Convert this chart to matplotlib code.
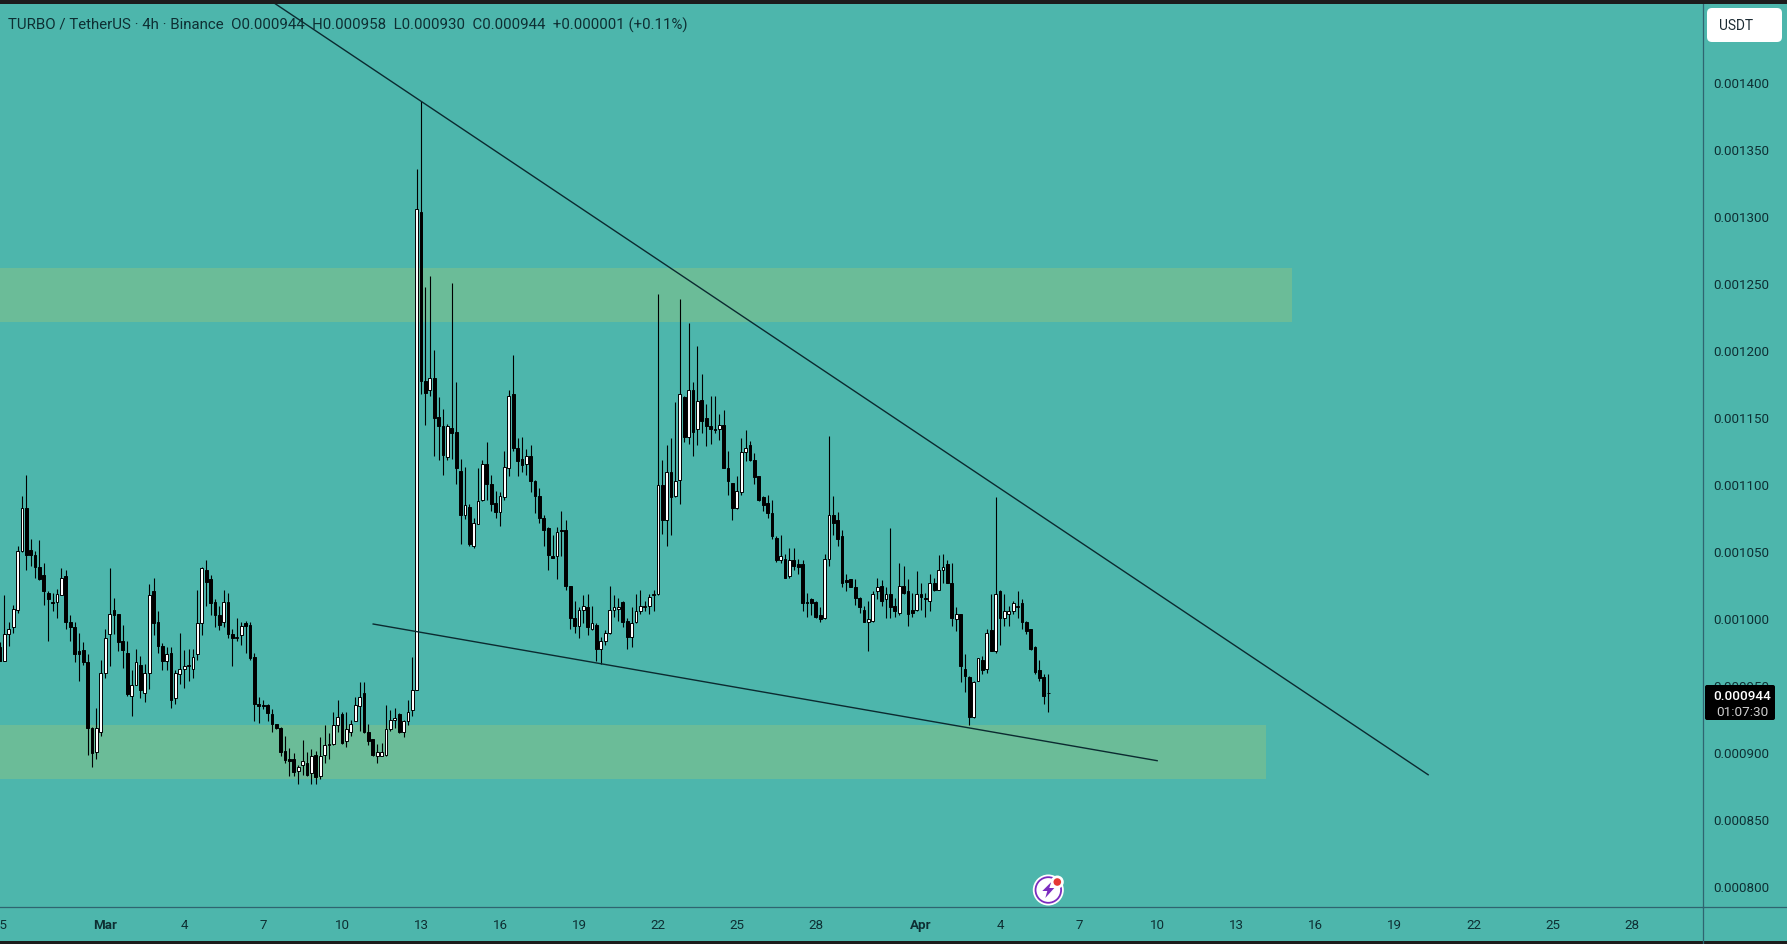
import numpy as np
import pandas as pd
import matplotlib
matplotlib.use("Agg")
import matplotlib.pyplot as plt
import matplotlib.dates as mdates
from matplotlib.lines import Line2D
from matplotlib.patches import Circle, FancyBboxPatch, Polygon, Rectangle
from matplotlib.transforms import IdentityTransform

# Prices are in millionths of USDT.
opens = [978,968,988,993,1006,1050,1082,1051,1047,1038,
 1032,1019,1012,1012,1017,1031,997,993,975,976,
 967,918,900,915,959,988,1006,1003,983,974,
 942,950,965,944,959,1020,997,979,968,974,
 940,958,962,964,962,973,996,1036,1029,1012,
 1002,997,1012,988,985,987,996,995,971,936,
 935,935,928,921,918,901,895,895,886,890,
 892,884,898,882,898,905,906,920,928,908,
 915,923,934,944,915,910,897,897,898,917,
 924,928,915,923,931,946,1303,1177,1170,1179,
 1150,1143,1120,1142,1139,1110,1077,1083,1054,1070,
 1088,1115,1100,1086,1079,1090,1112,1167,1127,1119,
 1115,1121,1102,1091,1075,1067,1046,1046,1066,1066,
 1024,1000,994,1006,1008,992,995,977,983,989,
 1006,1007,1012,998,986,997,1005,1008,1009,1017,
 1018,1099,1073,1109,1091,1103,1165,1135,1170,1141,
 1163,1149,1143,1141,1141,1144,1112,1101,1082,1094,
 1124,1129,1118,1106,1090,1086,1078,1060,1043,1044,
 1031,1043,1040,1040,1012,1014,1012,1002,1000,1044,
 1077,1073,1061,1028,1029,1023,1015,1006,997,998,
 1020,1024,1014,1018,1009,1004,1024,1020,1006,1006,
 1018,1015,1013,1026,1021,1036,1040,1026,999,1003,
 962,956,926,953,969,962,991,975,1020,1000,
 1003,1005,1008,1011,997,992,978,961,956,944]
highs = [982,1017,997,1010,1054,1091,1107,1059,1050,1058,
 1041,1020,1019,1022,1037,1036,1002,997,989,982,
 973,919,933,969,992,1037,1015,1003,995,983,
 961,977,972,966,1025,1030,1005,981,978,978,
 961,989,976,977,977,1021,1038,1043,1032,1014,
 1009,1021,1019,992,1000,997,998,997,974,941,
 939,936,932,921,919,912,903,899,890,909,
 900,902,901,911,920,914,930,939,930,930,
 924,941,952,952,921,910,906,907,935,931,
 933,929,924,939,971,1335,1386,1247,1255,1200,
 1165,1156,1145,1250,1176,1119,1113,1085,1075,1112,
 1118,1131,1107,1095,1094,1125,1170,1196,1134,1135,
 1126,1129,1103,1097,1077,1068,1062,1068,1080,1073,
 1024,1013,1008,1017,1018,1009,996,986,991,1024,
 1017,1015,1013,1000,1008,1018,1021,1013,1018,1021,
 1242,1118,1129,1134,1161,1238,1166,1220,1176,1203,
 1182,1160,1166,1166,1152,1155,1125,1101,1106,1134,
 1140,1132,1123,1106,1091,1092,1088,1061,1062,1048,
 1052,1052,1044,1043,1019,1015,1013,1008,1048,1136,
 1091,1079,1066,1033,1029,1029,1016,1009,1013,1020,
 1030,1028,1023,1067,1015,1041,1039,1029,1019,1035,
 1026,1019,1033,1030,1047,1048,1043,1041,1008,1003,
 973,957,953,970,972,992,1018,1090,1021,1018,
 1009,1013,1020,1014,998,992,979,969,958,958]
lows = [968,968,979,989,1004,1049,1036,1039,1030,1028,
 1010,983,1005,1000,1017,992,983,967,953,965,
 898,889,895,912,955,964,988,975,963,942,
 927,950,940,937,947,987,974,961,961,933,
 936,951,948,953,955,969,987,1009,1002,993,
 991,993,985,964,983,980,974,969,923,922,
 932,923,915,917,897,892,882,882,876,883,
 882,876,876,880,892,895,905,915,906,904,
 912,923,916,914,905,897,892,897,897,916,
 918,914,911,920,927,946,1167,1144,1166,1121,
 1118,1107,1118,1119,1100,1055,1074,1054,1052,1070,
 1087,1088,1080,1075,1069,1088,1106,1125,1106,1109,
 1107,1094,1078,1071,1054,1036,1045,1029,1046,1021,
 992,989,985,996,987,991,968,966,980,988,
 1001,998,993,977,978,996,1003,1005,1003,1005,
 1017,1063,1054,1062,1090,1085,1131,1130,1121,1129,
 1138,1128,1130,1138,1133,1112,1092,1073,1081,1092,
 1117,1117,1100,1087,1080,1075,1059,1042,1041,1030,
 1030,1036,1033,1005,1001,1002,1000,997,999,1039,
 1062,1054,1023,1020,1023,1010,1004,997,975,997,
 1014,1009,1000,1000,1001,1002,1018,994,1001,1005,
 1006,1001,1005,1020,1021,1026,1026,994,990,952,
 945,920,925,953,958,959,975,974,980,994,
 994,1003,1000,992,988,976,958,953,936,930]
closes = [968,988,992,1007,1050,1082,1047,1047,1038,1029,
 1020,1014,1011,1018,1030,997,993,973,973,967,
 918,899,918,959,985,1003,1002,982,976,943,
 950,967,946,959,1017,996,979,968,973,939,
 959,962,964,965,971,996,1037,1027,1011,1002,
 995,1012,988,985,986,994,994,970,936,934,
 934,929,921,918,900,894,893,885,889,893,
 883,897,881,897,905,906,920,926,907,917,
 921,935,941,915,908,898,900,900,917,924,
 925,915,923,930,946,1305,1177,1168,1179,1149,
 1143,1122,1143,1138,1112,1077,1084,1055,1071,1087,
 1115,1100,1085,1079,1091,1113,1166,1127,1117,1114,
 1121,1102,1091,1075,1066,1047,1045,1064,1065,1024,
 1000,994,1006,1009,993,996,977,983,989,1006,
 1008,1008,997,986,996,1005,1009,1009,1016,1018,
 1099,1073,1109,1090,1102,1167,1135,1170,1139,1162,
 1147,1143,1141,1140,1144,1112,1102,1082,1095,1124,
 1127,1118,1105,1088,1084,1078,1061,1043,1046,1030,
 1043,1039,1038,1011,1011,1011,1001,999,1044,1077,
 1071,1059,1026,1027,1023,1015,1008,997,999,1018,
 1023,1013,1018,1008,1005,1024,1019,1003,1004,1018,
 1016,1014,1026,1021,1036,1038,1026,1000,1003,964,
 957,926,952,970,961,989,975,1018,1000,1005,
 1005,1011,1009,997,990,977,960,955,942,944]

last_candle = "2025-04-05 20:00"

price_ticks = [800, 850, 900, 950, 1000, 1050, 1100, 1150, 1200, 1250, 1300, 1350, 1400]
price_labels = ["0.000800", "0.000850", "0.000900", "0.000950", "0.001000", "0.001050", "0.001100",
                "0.001150", "0.001200", "0.001250", "0.001300", "0.001350", "0.001400"]
date_ticks = ["2025-02-25", "2025-03-01", "2025-03-04", "2025-03-07", "2025-03-10", "2025-03-13",
              "2025-03-16", "2025-03-19", "2025-03-22", "2025-03-25", "2025-03-28", "2025-04-01",
              "2025-04-04", "2025-04-07", "2025-04-10", "2025-04-13", "2025-04-16", "2025-04-19",
              "2025-04-22", "2025-04-25", "2025-04-28"]
date_labels = ["25", "Mar", "4", "7", "10", "13", "16", "19", "22", "25", "28", "Apr",
               "4", "7", "10", "13", "16", "19", "22", "25", "28"]

upper_zone = (1221, 1261.5, "2025-04-15 02:00")
lower_zone = (879.5, 920.5, "2025-04-14 03:00")
upper_trend_t = ["2025-03-07 10:00", "2025-04-20 06:30"]
upper_trend_p = [1459, 883]
lower_trend_t = ["2025-03-11 04:20", "2025-04-09 23:20"]
lower_trend_p = [995.5, 893.5]

header = ("TURBO / TetherUS \u00b7 4h \u00b7 Binance  O0.000944  H0.000958  "
          "L0.000930  C0.000944  +0.000001 (+0.11%)")

W, H = 1787, 945
BG = "#4DB6AC"
ZONE = "#6BBC98"
INK = "#0E2F33"
AXIS = "#2F6470"
FONT = "Roboto"
plt.rcParams["font.family"] = [FONT, "DejaVu Sans"]


def fx(x):
    return x / W


def fy(y):
    return 1 - y / H


fig = plt.figure(figsize=(W / 100, H / 100), dpi=100, facecolor=BG)
ax = fig.add_axes([0, fy(908), fx(1703), fy(4) - fy(908)], facecolor=BG)

times = pd.date_range(end=last_candle, periods=len(opens), freq="4h")
t = mdates.date2num(times)
o, h, l, c = map(np.array, (opens, highs, lows, closes))
up = c >= o

left = mdates.date2num(pd.Timestamp("2025-03-01")) - 105 / 26.32
right = left + 1703 / 26.32
ax.set_xlim(left, right)
ax.set_ylim(784.3, 1459)


def zone(z):
    ax.axhspan(z[0], z[1], xmin=0, xmax=(mdates.date2num(pd.Timestamp(z[2])) - left) / (right - left),
               color=ZONE, lw=0, zorder=1)


zone(upper_zone)
zone(lower_zone)

ax.vlines(t, l, h, color="black", lw=0.8, zorder=3)
ax.bar(t, np.abs(c - o), bottom=np.minimum(o, c), width=0.105,
       color=np.where(up, "white", "black"), edgecolor="black", lw=0.7, zorder=4)

for tt, pp in ((upper_trend_t, upper_trend_p), (lower_trend_t, lower_trend_p)):
    ax.plot(mdates.date2num(pd.to_datetime(tt)), pp, color="#0B2A30", lw=1.0, zorder=5)

ax.yaxis.tick_right()
ax.set_yticks(price_ticks, price_labels)
ax.set_xticks(mdates.date2num(pd.to_datetime(date_ticks)), date_labels)
ax.tick_params(axis="y", length=0, pad=7.6, labelsize=9.6, labelcolor=INK)
ax.tick_params(axis="x", length=0, pad=8.2, labelsize=9.6, labelcolor=INK)
for lab in ax.get_xticklabels():
    if lab.get_text() in ("Mar", "Apr"):
        lab.set_fontweight("bold")
for name in ("top", "left"):
    ax.spines[name].set_visible(False)
for name in ("right", "bottom"):
    ax.spines[name].set_color(AXIS)
    ax.spines[name].set_linewidth(0.9)

fig.add_artist(Line2D([fx(1703), 1], [fy(908), fy(908)], color=AXIS, lw=0.9))
fig.add_artist(Line2D([fx(1703), fx(1703)], [fy(908), 0], color=AXIS, lw=0.9))
fig.add_artist(Rectangle((0, fy(4.5)), 1, 1 - fy(4.5), color="#1C1C1C", lw=0))
fig.add_artist(Rectangle((0, 0), 1, fy(942), color="#1C1C1C", lw=0))

fig.text(fx(8), fy(25), header, fontsize=10.8, color=INK, va="center", ha="left", zorder=10)

# Last price label
px = IdentityTransform()
fig.add_artist(FancyBboxPatch((1705, H - 721), 70, 35, boxstyle="round,pad=0,rounding_size=2",
                              transform=px, fc="black", ec="none", zorder=8))
fig.text(fx(1742), fy(696), "0.000944", color="white", fontsize=9.7, fontweight="medium",
         ha="center", va="center", zorder=9)
fig.text(fx(1742), fy(712), "01:07:30", color="#CFCFCF", fontsize=9.7, ha="center", va="center", zorder=9)

# USDT button
fig.add_artist(FancyBboxPatch((1707, H - 43), 75, 34, boxstyle="round,pad=0,rounding_size=5",
                              transform=px, fc="white", ec="none", zorder=8))
fig.text(fx(1736), fy(25.5), "USDT", color="#1C2B33", fontsize=9.9, ha="center", va="center", zorder=9)

# Lightning badge
cx, cy = 1048.3, H - 891
fig.add_artist(Circle((cx, cy), 15.5, transform=px, fc="white", ec="none", zorder=8))
fig.add_artist(Circle((cx, cy), 12.8, transform=px, fc="white", ec="#7B2CBF", lw=1.3, zorder=8))
fig.add_artist(Polygon(np.array([[cx + 3, cy + 8], [cx - 6, cy - 1], [cx - 1, cy - 1], [cx - 3, cy - 8],
                                 [cx + 6, cy + 2], [cx + 1, cy + 2]]),
                       transform=px, fc="#7B2CBF", ec="none", zorder=9))
fig.add_artist(Circle((cx + 9, cy + 8), 6.5, transform=px, fc="white", ec="none", zorder=9))
fig.add_artist(Circle((cx + 9, cy + 8), 3.8, transform=px, fc="#E53935", ec="none", zorder=10))

fig.savefig("out.png", dpi=100, facecolor=BG)
